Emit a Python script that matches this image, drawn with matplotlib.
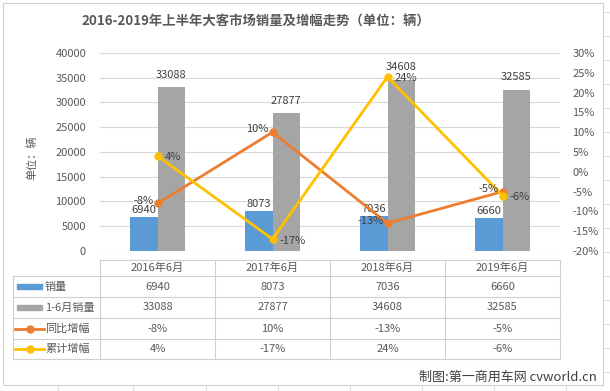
import matplotlib.pyplot as plt
import matplotlib.transforms as mtransforms
from matplotlib.patches import Rectangle
from matplotlib.lines import Line2D
import numpy as np

plt.rcParams['font.family'] = ['Noto Sans CJK SC', 'DejaVu Sans']

categories = ['2016年6月', '2017年6月', '2018年6月', '2019年6月']
june_sales = [6940, 8073, 7036, 6660]
h1_sales = [33088, 27877, 34608, 32585]
yoy_growth = [-8, 10, -13, -5]
cum_growth = [4, -17, 24, -6]

series_names = ['销量', '1-6月销量', '同比增幅', '累计增幅']

c_blue = '#5B9BD5'
c_gray = '#A5A5A5'
c_orange = '#ED7D31'
c_yellow = '#FFC000'
c_text = '#595959'
c_grid = '#D9D9D9'

W, H = 610, 391
fig = plt.figure(figsize=(W / 100, H / 100), dpi=100)


def fx(px):
    return px / W


def fy(py):
    return 1 - py / H


# faint spreadsheet grid around the chart
for xg in [58, 133, 206, 278, 350, 422, 494, 566]:
    fig.add_artist(Line2D([fx(xg), fx(xg)], [fy(386), fy(391)], color='#E0E0E0', lw=0.8))
for yg in range(12, 391, 24):
    fig.add_artist(Line2D([fx(603), fx(610)], [fy(yg), fy(yg)], color='#E0E0E0', lw=0.8))
fig.add_artist(Rectangle((fx(3), fy(385)), fx(603) - fx(3), fy(3) - fy(385),
                         fill=False, edgecolor='#D0D0D0', lw=0.8))

ax = fig.add_axes([fx(100), fy(251), fx(560) - fx(100), fy(53) - fy(251)])
ax2 = ax.twinx()

x = np.arange(len(categories))
bw = 0.24
ax.bar(x - bw / 2, june_sales, bw, color=c_blue, zorder=2)
ax.bar(x + bw / 2, h1_sales, bw, color=c_gray, zorder=2)
ax.set_xlim(-0.5, len(categories) - 0.5)
ax.set_ylim(0, 40000)
ax.set_yticks(range(0, 40001, 5000))
ax.yaxis.grid(True, color=c_grid, lw=0.8, zorder=0)
ax.set_axisbelow(True)
ax.set_xticks([])
for s in ax.spines.values():
    s.set_visible(False)
for s in ax2.spines.values():
    s.set_visible(False)
ax.axhline(0, color=c_grid, lw=0.8)
ax.tick_params(axis='y', length=0, labelsize=8, labelcolor=c_text, pad=10)

for i in range(len(categories)):
    ax.text(x[i] - bw / 2, june_sales[i] + 400, str(june_sales[i]), ha='center', va='bottom',
            fontsize=8, color='#404040')
    ax.text(x[i] + bw / 2, h1_sales[i] + 1500, str(h1_sales[i]), ha='center', va='bottom',
            fontsize=8, color='#404040')

ax2.plot(x, yoy_growth, color=c_orange, lw=2, marker='o', ms=5, zorder=3)
ax2.plot(x, cum_growth, color=c_yellow, lw=2, marker='o', ms=5, zorder=3)
ax2.set_ylim(-20, 30)
ax2.set_yticks(range(-20, 31, 5))
ax2.set_yticklabels([f'{v}%' for v in range(-20, 31, 5)])
ax2.tick_params(axis='y', length=0, labelsize=8, labelcolor=c_text, pad=9)

for i in range(len(categories)):
    ax2.annotate(f'{yoy_growth[i]}%', (x[i], yoy_growth[i]), xytext=(-3, 2),
                 textcoords='offset points', ha='right', va='center', fontsize=8, color='#404040')
    ax2.annotate(f'{cum_growth[i]}%', (x[i], cum_growth[i]), xytext=(5, -1),
                 textcoords='offset points', ha='left', va='center', fontsize=8, color='#404040')

ax.text(fx(32), fy(158), '单位：辆', transform=fig.transFigure, rotation=90,
        ha='center', va='center', fontsize=8, color=c_text)

fig.text(fx(256), fy(22), '2016-2019年上半年大客市场销量及增幅走势（单位：辆）',
         ha='center', va='center', fontsize=9.6, fontweight='bold', color=c_text)

# data table below the plot
tb = mtransforms.blended_transform_factory(ax.transData, fig.transFigure)
row_y = [260, 276, 297, 318, 339, 359]
tcol = '#D0D0D0'
fig.add_artist(Line2D([fx(100), fx(560)], [fy(row_y[0])] * 2, color=tcol, lw=0.8))
for ry in row_y[1:]:
    fig.add_artist(Line2D([fx(13), fx(560)], [fy(ry)] * 2, color=tcol, lw=0.8))
fig.add_artist(Line2D([fx(13), fx(13)], [fy(row_y[1]), fy(row_y[-1])], color=tcol, lw=0.8))
for i in range(len(categories) + 1):
    fig.add_artist(Line2D([i - 0.5, i - 0.5], [fy(row_y[0]), fy(row_y[-1])],
                          transform=tb, color=tcol, lw=0.8))

rows = [
    [str(v) for v in june_sales],
    [str(v) for v in h1_sales],
    [f'{v}%' for v in yoy_growth],
    [f'{v}%' for v in cum_growth],
]
for i, cat in enumerate(categories):
    fig.text(x[i], fy((row_y[0] + row_y[1]) / 2), cat, transform=tb, ha='center', va='center',
             fontsize=8, color=c_text)
    for r, vals in enumerate(rows):
        fig.text(x[i], fy((row_y[r + 1] + row_y[r + 2]) / 2), vals[i], transform=tb,
                 ha='center', va='center', fontsize=8, color=c_text)

keys = [('bar', c_blue), ('bar', c_gray), ('line', c_orange), ('line', c_yellow)]
for r, (kind, col) in enumerate(keys):
    yc = (row_y[r + 1] + row_y[r + 2]) / 2
    if kind == 'bar':
        fig.add_artist(Rectangle((fx(17), fy(yc + 2.5)), fx(42) - fx(17), fy(yc - 2.5) - fy(yc + 2.5),
                                 color=col))
    else:
        fig.add_artist(Line2D([fx(15), fx(44)], [fy(yc), fy(yc)], color=col, lw=2))
        fig.add_artist(Line2D([fx(29.5)], [fy(yc)], color=col, marker='o', ms=5))
    fig.text(fx(45), fy(yc), series_names[r], ha='left', va='center', fontsize=8, color=c_text)

fig.text(fx(597), fy(377), '制图:第一商用车网 cvworld.cn', ha='right', va='center',
         fontsize=9.4, color='#404040')

fig.savefig('out.png', dpi=100)
